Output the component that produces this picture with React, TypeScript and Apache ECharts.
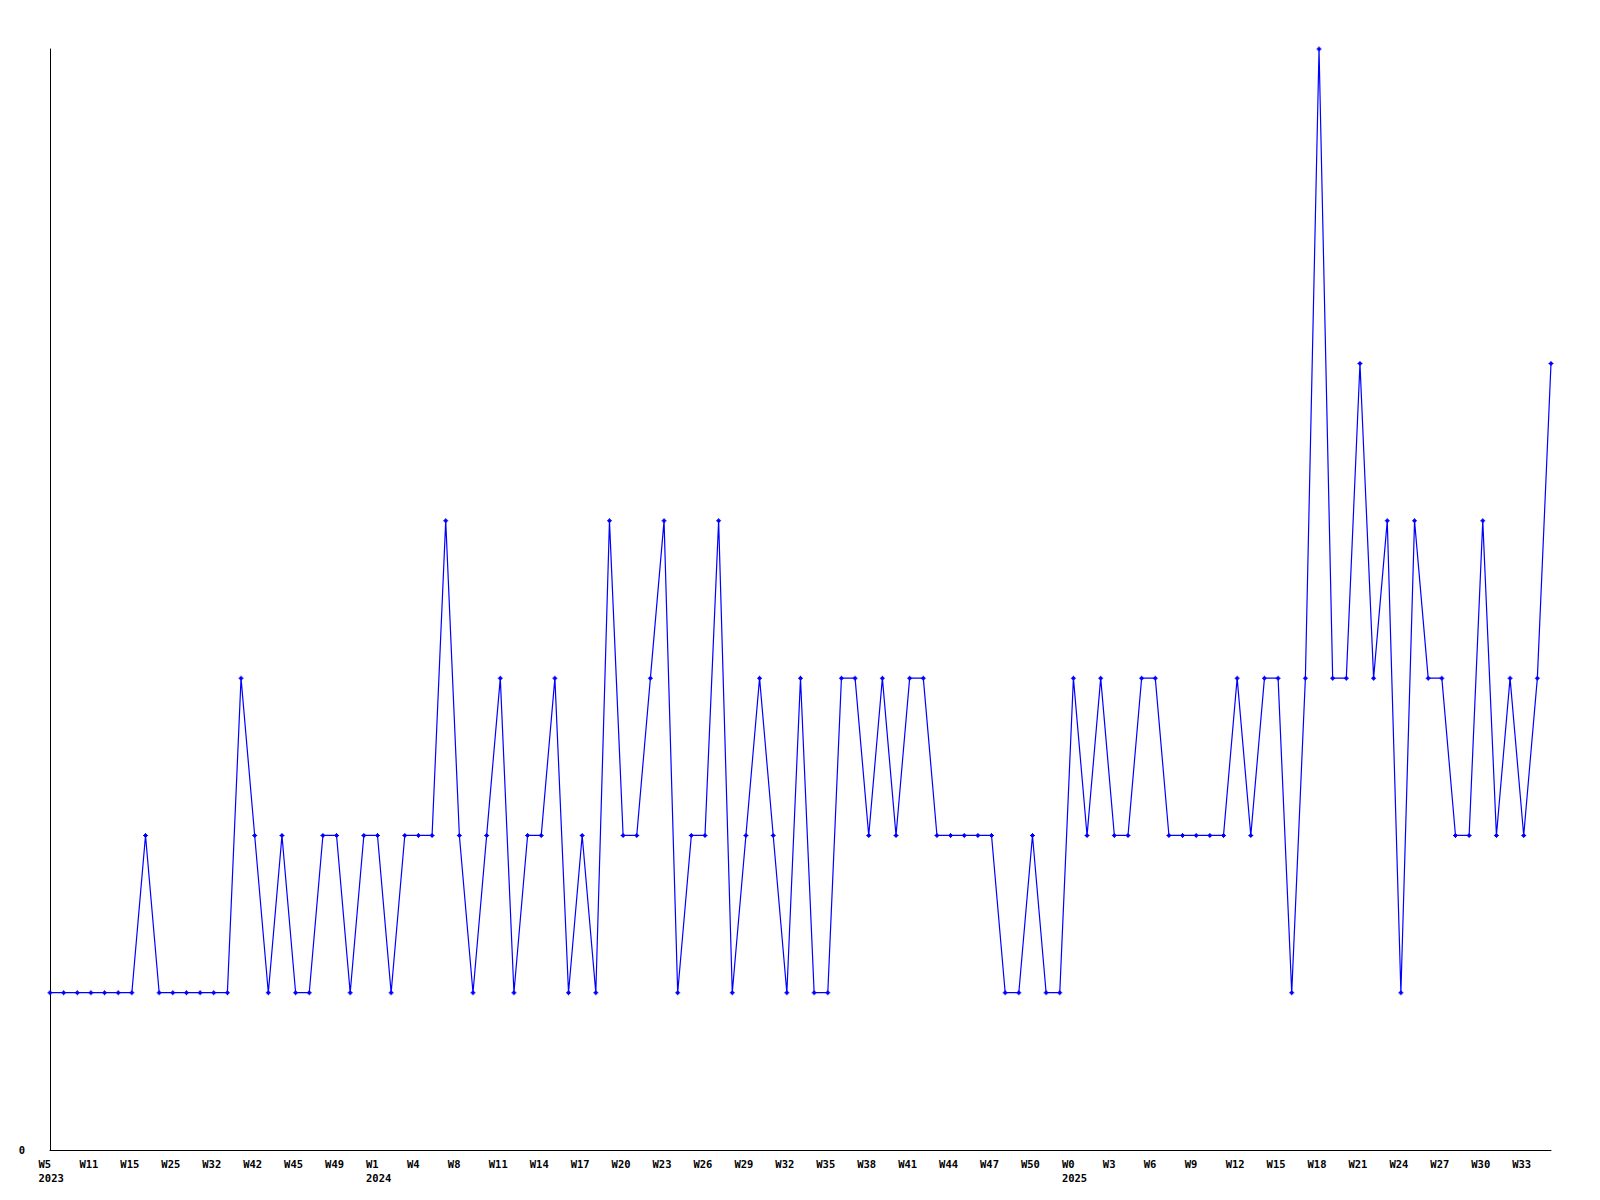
import React, { useEffect, useRef } from "react";
import * as echarts from "echarts";

const weeks2023 = [5, 6, 9, 11, 12, 14, 15, 19, 22, 25, 27, 30, 32, 36, 40, 42, 43, 44, 45, 46, 48, 49, 50, 51];
const weeks2024 = [1, 2, 3, 4, 6, 7, 8, 9, 10, 11, 12, 13, 14, 15, 16, 17, 18, 19, 20, 21, 22, 23, 24, 25, 26, 27, 28, 29, 30, 31, 32, 33, 34, 35, 36, 37, 38, 39, 40, 41, 42, 43, 44, 45, 46, 47, 48, 49, 50, 51, 52];
const weeks2025 = [0, 1, 2, 3, 4, 5, 6, 7, 8, 9, 10, 11, 12, 13, 14, 15, 16, 17, 18, 19, 20, 21, 22, 23, 24, 25, 26, 27, 28, 29, 30, 31, 32, 33, 34, 35];

const values2023 = [1, 1, 1, 1, 1, 1, 1, 2, 1, 1, 1, 1, 1, 1, 3, 2, 1, 2, 1, 1, 2, 2, 1, 2];
const values2024 = [2, 1, 2, 2, 2, 4, 2, 1, 2, 3, 1, 2, 2, 3, 1, 2, 1, 4, 2, 2, 3, 4, 1, 2, 2, 4, 1, 2, 3, 2, 1, 3, 1, 1, 3, 3, 2, 3, 2, 3, 3, 2, 2, 2, 2, 2, 1, 1, 2, 1, 1];
const values2025 = [3, 2, 3, 2, 2, 3, 3, 2, 2, 2, 2, 2, 3, 2, 3, 3, 1, 3, 7, 3, 3, 5, 3, 4, 1, 4, 3, 3, 2, 2, 4, 2, 3, 2, 3, 5];

const yTickLabels = ["0"];

export default function App() {
  const ref = useRef<HTMLDivElement>(null);
  useEffect(() => {
    if (!ref.current) return;
    const chart = echarts.init(ref.current, undefined, { renderer: "svg" });
    const cats: string[] = [];
    const firstOfYear = new Set<number>();
    const addYear = (year: number, weeks: number[]) => {
      firstOfYear.add(cats.length);
      weeks.forEach((w) => cats.push(`${year}|W${w}`));
    };
    addYear(2023, weeks2023);
    addYear(2024, weeks2024);
    addYear(2025, weeks2025);
    const data = [...values2023, ...values2024, ...values2025];
    const font = "DejaVu Sans Mono";
    chart.setOption({
      animation: false,
      backgroundColor: "#ffffff",
      grid: { left: 50, right: 49, top: 49, bottom: 50, containLabel: false },
      xAxis: {
        type: "category",
        data: cats,
        boundaryGap: false,
        axisLine: { show: true, lineStyle: { color: "#000000", width: 1 } },
        axisTick: { show: false },
        splitLine: { show: false },
        axisLabel: {
          interval: 2,
          margin: 7,
          align: "center",
          hideOverlap: false,
          formatter: (v: string, idx: number) => {
            const [y, w] = v.split("|");
            return firstOfYear.has(idx) ? `{a|${w}}\n{a|${y}}` : `{a|${w}}`;
          },
          rich: {
            a: {
              width: 23,
              align: "left",
              fontFamily: font,
              fontWeight: "bold",
              fontSize: 10.5,
              lineHeight: 14,
              color: "#000000",
            },
          },
        },
      },
      yAxis: {
        type: "value",
        min: 0,
        max: 7,
        interval: 7,
        axisLine: { show: true, lineStyle: { color: "#000000", width: 1 } },
        axisTick: { show: false },
        splitLine: { show: false },
        axisLabel: {
          margin: 25,
          fontFamily: font,
          fontWeight: "bold",
          fontSize: 10.5,
          color: "#000000",
          formatter: (v: number) => (yTickLabels.includes(String(v)) ? String(v) : ""),
        },
      },
      series: [
        {
          type: "line",
          data,
          color: "#0000ff",
          lineStyle: { color: "#0000ff", width: 1.2 },
          itemStyle: { color: "#0000ff" },
          symbol: "path://M2 0h1v1h1v1h1v1h-1v1h-1v1h-1v-1h-1v-1h-1v-1h1v-1h1z",
          symbolSize: 5,
          showSymbol: true,
          showAllSymbol: true,
        },
      ],
    });
    return () => chart.dispose();
  }, []);
  return (
    <div
      ref={ref}
      style={{ position: "absolute", left: 0, top: 0, width: 1600, height: 1200 }}
    />
  );
}
